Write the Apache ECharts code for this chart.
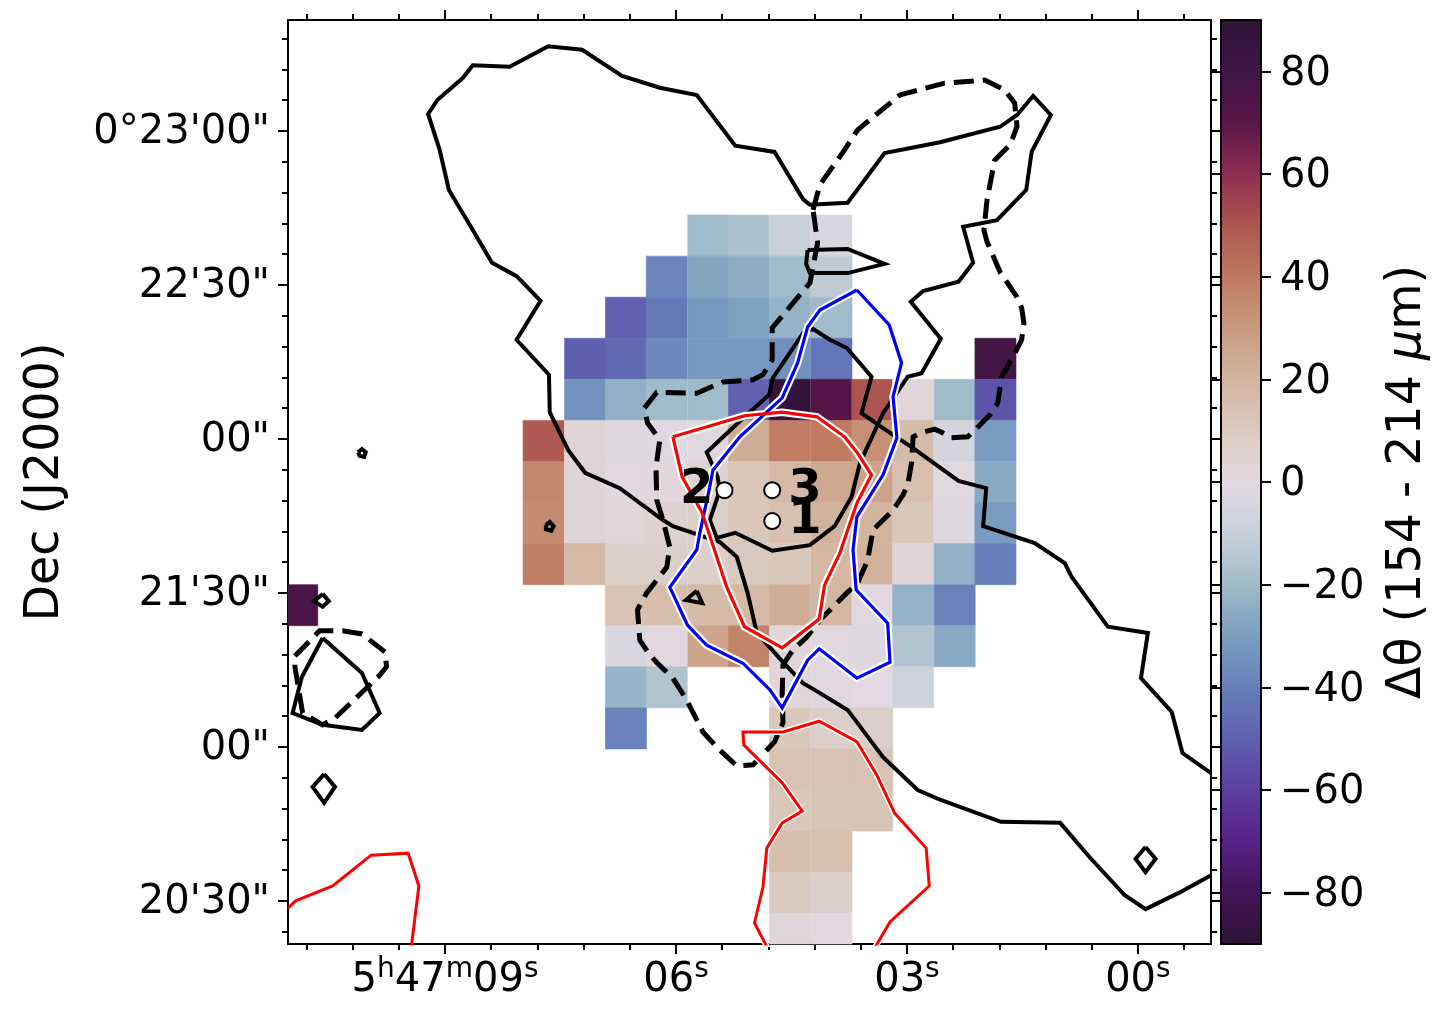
<!DOCTYPE html>
<html>
<head>
<meta charset="utf-8">
<script src="https://cdn.jsdelivr.net/npm/echarts@6/dist/echarts.min.js"></script>
<style>
    body { margin: 0; background: #fff; }
    #chart { width: 1450px; height: 1023px; }
</style>
</head>
<body>
<div id="chart"></div>

<script>
    const _ = null;

    // axis ranges: RA in seconds after 5h47m00s, Dec in arcsec after 0d20'00"
    const raRange = [-0.95, 11.04];
    const decRange = [21.6, 201.6];
    const cbarRange = [-90, 90];

    const raTicks = [9, 6, 3, 0];
    const raMinorTicks = [10.8, 10.2, 9.6, 8.4, 7.8, 7.2, 6.6, 5.4, 4.8, 4.2, 3.6, 2.4, 1.8, 1.2, 0.6, -0.6];
    const decTicks = [180, 150, 120, 90, 60, 30];
    const decTickLabels = ['0°23\'00"', '22\'30"', '00"', '21\'30"', '00"', '20\'30"'];
    const decMinorTicks = [198, 192, 186, 174, 168, 162, 156, 144, 138, 132, 126, 114, 108, 102, 96, 84, 78, 72, 66, 54, 48, 42, 36, 24];
    const cbarTicks = [-80, -60, -40, -20, 0, 20, 40, 60, 80];

    // pixel centres of the map
    const cellRa = [10.92, 10.38, 9.85, 9.32, 8.78, 8.25, 7.72, 7.18, 6.65, 6.12, 5.58, 5.05, 4.52, 3.98, 3.45, 2.92, 2.38, 1.85];
    const cellDec = [159.6, 151.6, 143.6, 135.6, 127.6, 119.6, 111.6, 103.6, 95.6, 87.6, 79.6, 71.6, 63.6, 55.6, 47.6, 39.6, 31.6, 23.6];

    // delta theta per map pixel, one row per cellDec, one column per cellRa
    const deltaTheta = [
        [_, _, _, _, _, _, _, _, _, _, -20, -17, -10, -3, _, _, _, _],
        [_, _, _, _, _, _, _, _, _, -38, -28, -25, -20, -13, _, _, _, _],
        [_, _, _, _, _, _, _, _, -49, -42, -32, -29, -23, -20, _, _, _, _],
        [_, _, _, _, _, _, _, -50, -47, -37, -32, -32, -35, -43, _, _, _, 79],
        [_, _, _, _, _, _, _, -34, -24, -20, -20, -49, 87, 72, 50, 3, -20, -53],
        [_, _, _, _, _, _, 49, 4, -2, -1, 1, 23, 39, 40, 33, 17, -6, -31],
        [_, _, _, _, _, _, 36, 4, 1, 2, 5, 12, 18, 25, 27, 15, 1, -26],
        [_, _, _, _, _, _, 35, 4, 3, 5, 8, 12, 15, 21, 20, 12, -2, -31],
        [_, _, _, _, _, _, 38, 18, 8, 8, 8, 11, 12, 19, 21, 4, -24, -40],
        [76, _, _, _, _, _, _, _, 14, 16, 17, 18, 23, 19, 1, -23, -39, _],
        [_, _, _, _, _, _, _, _, -3, 1, 26, 37, 3, 1, -2, -16, -26, _],
        [_, _, _, _, _, _, _, _, -22, -16, _, _, 3, 1, 0, -8, _, _],
        [_, _, _, _, _, _, _, _, -39, _, _, _, 12, 8, 8, _, _, _],
        [_, _, _, _, _, _, _, _, _, _, _, _, 14, 14, 14, _, _, _],
        [_, _, _, _, _, _, _, _, _, _, _, _, 12, 13, 13, _, _, _],
        [_, _, _, _, _, _, _, _, _, _, _, _, 16, 15, _, _, _, _],
        [_, _, _, _, _, _, _, _, _, _, _, _, 11, 8, _, _, _, _],
        [_, _, _, _, _, _, _, _, _, _, _, _, 3, 1, _, _, _, _]
    ];

    const cmap = ['#2f1436', '#421358', '#582188', '#5b3fa0', '#5f5fb0', '#6680bb', '#7a9fc0', '#a0bbc9', '#c9d0d8', '#e2d9e2',
        '#dbcbc1', '#d2b59f', '#c99a7e', '#bf7a60', '#ad5650', '#8e2e52', '#5a1648', '#3f1545', '#2f1436'];

    // contours as [ra, dec]
    const solidMain = [[-0.95, 35.0], [-0.55, 31.7], [-0.10, 28.4], [0.17, 31.1], [0.62, 38.4], [1.01, 45.2], [1.78, 45.4], [2.57, 49.7],
        [2.86, 51.6], [3.31, 58.0], [3.77, 67.2], [4.20, 71.1], [4.35, 72.4], [4.61, 76.5], [4.95, 82.2], [5.07, 90.0], [5.21, 97.0],
        [5.43, 99.9], [6.04, 103.0], [6.17, 104.2], [6.73, 110.4], [7.18, 113.4], [7.40, 117.8], [7.64, 125.2], [7.65, 132.5], [8.07, 139.3],
        [7.76, 146.9], [8.07, 151.7], [8.39, 154.3], [8.68, 161.7], [8.95, 168.5], [9.07, 176.3], [9.22, 183.3], [9.10, 186.0], [8.77, 190.3],
        [8.64, 192.8], [8.16, 192.5], [7.66, 196.5], [7.22, 195.8], [6.70, 190.7], [6.21, 188.4], [5.73, 187.0], [5.23, 177.1], [4.72, 175.9],
        [4.35, 166.7], [4.26, 165.6], [3.77, 166.0], [3.29, 175.7], [2.57, 177.8], [1.79, 180.8], [1.57, 183.1], [1.36, 186.8], [1.13, 183.1],
        [1.38, 175.9], [1.45, 168.5], [1.83, 162.6], [2.27, 161.3], [2.14, 154.3], [2.33, 150.6], [2.79, 148.8], [2.95, 146.7], [2.56, 139.5],
        [2.81, 132.8], [2.99, 132.1], [3.31, 125.0], [3.61, 115.3], [3.72, 108.7], [3.94, 103.0], [4.26, 99.3], [4.75, 98.2], [5.23, 101.7],
        [5.47, 100.7], [5.56, 104.2], [5.43, 110.0], [5.46, 112.6], [5.60, 117.4], [5.11, 124.3], [4.79, 128.6], [4.74, 131.9], [4.34, 140.8],
        [4.22, 141.4], [4.00, 139.3], [3.78, 137.7], [3.46, 132.1], [3.59, 125.0], [3.31, 122.1], [2.92, 118.2], [2.33, 111.8], [1.97, 110.4],
        [2.01, 103.0], [1.34, 99.7], [0.95, 95.8], [0.86, 93.1], [0.39, 83.4], [-0.13, 82.2], [-0.04, 73.4], [-0.44, 66.8], [-0.58, 58.8], [-0.95, 54.9]];

    const solidSliver = [[4.29, 156.8], [3.77, 157.0], [3.29, 154.1], [3.77, 152.3], [4.26, 152.3], [4.31, 154.1]];
    const solidBlob = [[10.59, 81.2], [10.08, 74.4], [9.85, 66.6], [10.08, 63.3], [10.59, 64.3], [10.98, 66.6], [10.86, 73.6]];
    const solidSpecks = [
        [[10.13, 117.4], [10.08, 118.0], [10.03, 117.4], [10.05, 116.5], [10.11, 116.7]],
        [[7.69, 103.2], [7.64, 103.8], [7.59, 103.0], [7.62, 102.1], [7.69, 102.4]],
        [[5.73, 90.4], [5.66, 88.0], [5.87, 88.6]],
        [[10.59, 89.8], [10.51, 88.4], [10.59, 87.3], [10.70, 88.4]],
        [[10.57, 54.7], [10.43, 52.2], [10.57, 49.1], [10.72, 52.2]],
        [[-0.10, 40.5], [-0.23, 38.2], [-0.10, 35.6], [0.03, 38.2]]
    ];

    const dashedMain = [[4.22, 164.6], [4.13, 169.5], [3.81, 176.3], [3.64, 180.2], [3.09, 187.0], [2.51, 189.3], [1.99, 189.9], [1.73, 188.0],
        [1.60, 185.4], [1.57, 180.8], [1.66, 177.3], [1.86, 174.3], [1.96, 166.5], [2.00, 160.7], [1.96, 158.4], [1.79, 152.5], [1.57, 147.6],
        [1.51, 145.5], [1.48, 142.6], [1.51, 139.3], [1.62, 136.0], [1.77, 132.1], [1.82, 127.0], [1.92, 124.7], [2.09, 122.1], [2.21, 120.4],
        [2.44, 120.2], [2.55, 121.3], [2.64, 121.9], [2.79, 121.3], [2.92, 120.4], [2.94, 115.3], [2.99, 111.0], [3.05, 109.1], [3.18, 106.1],
        [3.44, 102.3], [3.51, 96.4], [3.64, 91.9], [3.78, 90.0], [4.13, 84.7], [4.30, 81.4], [4.48, 78.9], [4.61, 76.0], [4.62, 70.5], [4.61, 64.7],
        [4.72, 61.0], [5.00, 56.5], [5.21, 56.3], [5.46, 59.8], [5.65, 62.9], [5.86, 69.1], [6.04, 73.4], [6.24, 76.3], [6.34, 77.9], [6.47, 80.8],
        [6.50, 86.7], [6.38, 90.0], [6.12, 95.0], [6.08, 98.9], [6.17, 104.2], [6.25, 108.1], [6.26, 114.5], [6.21, 119.8], [6.37, 123.1],
        [6.41, 126.0], [6.25, 129.1], [5.73, 128.9], [5.39, 131.1], [5.00, 131.5], [4.87, 132.5], [4.75, 135.4], [4.75, 141.6], [4.26, 150.4], [4.16, 158.2]];
    const dashedBlob = [[10.95, 77.7], [10.63, 82.6], [10.33, 82.6], [10.08, 82.0], [9.78, 78.5], [9.76, 75.6], [9.87, 73.6], [10.43, 65.6], [10.59, 64.3], [10.85, 66.6], [10.95, 75.6]];

    const blueContour = [[3.65, 149.0], [4.13, 145.1], [4.29, 141.8], [4.42, 134.8], [4.62, 128.0], [4.75, 126.2], [5.17, 120.4], [5.52, 113.9], [5.57, 110.0],
        [5.69, 101.7], [5.73, 98.4], [6.08, 91.1], [5.85, 83.7], [5.60, 79.8], [5.13, 76.3], [4.78, 71.1], [4.62, 67.6], [4.29, 76.9], [4.14, 79.1],
        [3.65, 73.4], [3.22, 76.5], [3.25, 84.1], [3.66, 90.6], [3.70, 98.4], [3.65, 104.8], [3.31, 113.0], [3.13, 120.2], [3.18, 128.2], [3.07, 134.8], [3.23, 142.2]];

    const redInner = [[6.04, 120.4], [5.11, 124.5], [4.62, 125.2], [4.17, 124.3], [3.81, 120.4], [3.65, 117.4], [3.46, 113.0], [3.65, 107.5], [3.87, 97.8],
        [4.07, 91.5], [4.14, 84.9], [4.62, 79.3], [5.11, 83.4], [5.34, 91.1], [5.66, 105.6], [5.92, 112.6]];
    const redBottom = [[4.81, 20.8], [4.98, 25.7], [4.87, 32.7], [4.82, 40.3], [4.62, 45.2], [4.36, 47.5], [4.62, 53.0], [5.12, 60.4], [5.13, 62.9], [4.61, 62.9],
        [4.14, 65.0], [3.65, 61.0], [3.39, 54.5], [3.16, 47.1], [2.75, 40.3], [2.71, 32.9], [3.22, 25.9], [3.42, 20.8]];
    const redLeft = [[11.04, 28.6], [10.94, 30.0], [10.46, 32.9], [9.96, 38.9], [9.48, 39.3], [9.34, 32.9], [9.44, 20.8]];

    const sourceRa = [4.75, 5.37, 4.75];
    const sourceDec = [104.0, 110.0, 110.0];
    const sourceNames = ['1', '2', '3'];

    const cellHalfRa = 0.2667;
    const cellHalfDec = 4;
    const fontName = '"DejaVu Sans"';
    const tickFont = 40;
    const titleFont = 47.5;

    function closed(pts) {
        return pts.concat([pts[0]]);
    }

    function contour(pts, color, width, dash, z) {
        return {
            type: 'line',
            data: pts,
            xAxisIndex: 0,
            yAxisIndex: 0,
            showSymbol: false,
            silent: true,
            clip: true,
            animation: false,
            z: z,
            lineStyle: { color: color, width: width, type: dash || 'solid', join: 'miter' }
        };
    }

    function cellData() {
        let out = [];
        deltaTheta.forEach(function (row, r) {
            row.forEach(function (v, c) {
                if (v !== null) out.push([cellRa[c], cellDec[r], v]);
            });
        });
        return out;
    }

    function renderCell(params, api) {
        let p0 = api.coord([api.value(0) + cellHalfRa, api.value(1) + cellHalfDec]);
        let p1 = api.coord([api.value(0) - cellHalfRa, api.value(1) - cellHalfDec]);
        let rect = echarts.graphic.clipRectByRect(
            { x: p0[0], y: p0[1], width: p1[0] - p0[0], height: p1[1] - p0[1] },
            { x: params.coordSys.x, y: params.coordSys.y, width: params.coordSys.width, height: params.coordSys.height }
        );
        if (!rect) return;
        let color = api.visual('color');
        return { type: 'rect', shape: rect, style: { fill: color, stroke: color, lineWidth: 0.6 } };
    }

    function xAxisFor(position, ticks, len, withLabels) {
        return {
            type: 'value', gridIndex: 0, position: position, inverse: true,
            min: raRange[0], max: raRange[1],
            splitLine: { show: false },
            axisLine: { show: true, onZero: false, lineStyle: { color: '#000', width: 2 } },
            axisTick: { show: true, customValues: ticks, length: len, inside: false, lineStyle: { color: '#000', width: 2 } },
            axisLabel: withLabels ? {
                show: true, customValues: ticks, margin: 14, hideOverlap: false,
                showMinLabel: true, showMaxLabel: true,
                formatter: function (v) {
                    let sec = String(Math.round(v)).padStart(2, '0');
                    if (v === raTicks[0]) return '{n|5}{u|h}{n|47}{u|m}{n|' + sec + '}{u|s}';
                    return '{n|' + sec + '}{u|s}';
                },
                rich: {
                    n: { fontFamily: fontName, fontSize: tickFont, color: '#000', lineHeight: 46 },
                    u: { fontFamily: fontName, fontSize: 28, color: '#000', padding: [0, 0, 22, 0], lineHeight: 46 }
                }
            } : { show: false }
        };
    }

    function yAxisFor(position, ticks, len, withLabels) {
        return {
            type: 'value', gridIndex: 0, position: position,
            min: decRange[0], max: decRange[1],
            splitLine: { show: false },
            name: withLabels ? 'Dec (J2000)' : '',
            nameLocation: 'middle',
            nameRotate: 90,
            nameGap: 218,
            nameTextStyle: { fontFamily: fontName, fontSize: titleFont, color: '#000' },
            axisLine: { show: true, onZero: false, lineStyle: { color: '#000', width: 2 } },
            axisTick: { show: true, customValues: ticks, length: len, inside: false, lineStyle: { color: '#000', width: 2 } },
            axisLabel: withLabels ? {
                show: true, customValues: ticks, margin: 18, hideOverlap: false,
                formatter: function (v) { return '{t|' + decTickLabels[decTicks.indexOf(v)] + '}'; },
                rich: { t: { fontFamily: fontName, fontSize: tickFont, color: '#000', padding: [4, 0, 0, 0] } }
            } : { show: false }
        };
    }

    function cbarFrameX(position) {
        return {
            type: 'value', gridIndex: 1, position: position, min: 0, max: 1, z: 6,
            splitLine: { show: false }, axisTick: { show: false }, axisLabel: { show: false },
            axisLine: { show: true, onZero: false, lineStyle: { color: '#000', width: 2 } }
        };
    }

    function cbarY(position, withLabels) {
        return {
            type: 'value', gridIndex: 1, position: position, min: cbarRange[0], max: cbarRange[1], z: 6,
            splitLine: { show: false },
            name: withLabels ? 'Δθ (154 - 214 {i|μ}m)' : '',
            nameLocation: 'middle',
            nameRotate: 90,
            nameGap: 123,
            nameTextStyle: {
                fontFamily: fontName, fontSize: titleFont, color: '#000',
                rich: { i: { fontFamily: fontName, fontSize: titleFont, fontStyle: 'italic', color: '#000' } }
            },
            axisLine: { show: true, onZero: false, lineStyle: { color: '#000', width: 2 } },
            axisTick: { show: true, customValues: cbarTicks, length: 10, inside: false, lineStyle: { color: '#000', width: 2 } },
            axisLabel: withLabels ? {
                show: true, customValues: cbarTicks, margin: 19, align: 'left', hideOverlap: false,
                formatter: function (v) { return '{t|' + String(v).replace('-', '\u2212') + '}'; },
                rich: { t: { fontFamily: fontName, fontSize: tickFont, color: '#000', padding: [6, 0, 0, 0] } }
            } : { show: false }
        };
    }

    let series = [{
        type: 'custom',
        data: cellData(),
        encode: { x: 0, y: 1 },
        xAxisIndex: 0,
        yAxisIndex: 0,
        renderItem: renderCell,
        silent: true,
        animation: false,
        z: 2
    }];

    series.push(contour(solidMain, '#000', 4, null, 3));
    series.push(contour(closed(solidSliver), '#000', 4, null, 3));
    series.push(contour(closed(solidBlob), '#000', 4, null, 3));
    solidSpecks.forEach(function (pts) {
        series.push(contour(closed(pts), '#000', 4, null, 3));
    });
    series.push(contour(closed(dashedMain), '#000', 5, [20, 9], 3));
    series.push(contour(closed(dashedBlob), '#000', 5, [20, 9], 3));

    series.push(contour(closed(blueContour), '#fff', 7.5, null, 4));
    series.push(contour(closed(redInner), '#fff', 7.5, null, 4));
    series.push(contour(redBottom, '#fff', 6, null, 4));
    series.push(contour(closed(blueContour), '#0000ff', 3.2, null, 5));
    series.push(contour(closed(redInner), '#ff0000', 3.2, null, 5));
    series.push(contour(redBottom, '#ff0000', 3, null, 5));
    series.push(contour(redLeft, '#ff0000', 3, null, 5));

    series.push({
        type: 'scatter',
        xAxisIndex: 0,
        yAxisIndex: 0,
        silent: true,
        animation: false,
        z: 6,
        symbolSize: 16,
        itemStyle: { color: '#fff', borderColor: '#000', borderWidth: 2, opacity: 1 },
        data: sourceRa.map(function (ra, i) {
            return {
                value: [ra, sourceDec[i]],
                name: sourceNames[i],
                label: {
                    show: true,
                    formatter: sourceNames[i],
                    position: sourceNames[i] === '2' ? 'left' : 'right',
                    distance: sourceNames[i] === '2' ? 2 : 7,
                    fontFamily: fontName,
                    fontWeight: 'bold',
                    fontSize: 48,
                    color: '#000'
                }
            };
        })
    });

    let chart = echarts.init(document.getElementById('chart'));
    chart.setOption({
        animation: false,
        backgroundColor: '#fff',
        grid: [
            { left: 288, top: 20, width: 923, height: 924 },
            { left: 1221, top: 20, width: 40, height: 924 }
        ],
        xAxis: [
            xAxisFor('bottom', raTicks, 10, true),
            xAxisFor('bottom', raMinorTicks, 6, false),
            xAxisFor('top', raTicks, 10, false),
            xAxisFor('top', raMinorTicks, 6, false),
            cbarFrameX('bottom'),
            cbarFrameX('top')
        ],
        yAxis: [
            yAxisFor('left', decTicks, 10, true),
            yAxisFor('left', decMinorTicks, 6, false),
            yAxisFor('right', decTicks, 10, false),
            yAxisFor('right', decMinorTicks, 6, false),
            cbarY('left', false),
            cbarY('right', true)
        ],
        visualMap: {
            type: 'continuous',
            min: cbarRange[0],
            max: cbarRange[1],
            seriesIndex: 0,
            dimension: 2,
            left: 1221,
            top: 20,
            itemWidth: 40,
            itemHeight: 924,
            padding: 0,
            calculable: false,
            hoverLink: false,
            z: 1,
            inRange: { color: cmap }
        },
        series: series
    });
</script>
</body>
</html>
